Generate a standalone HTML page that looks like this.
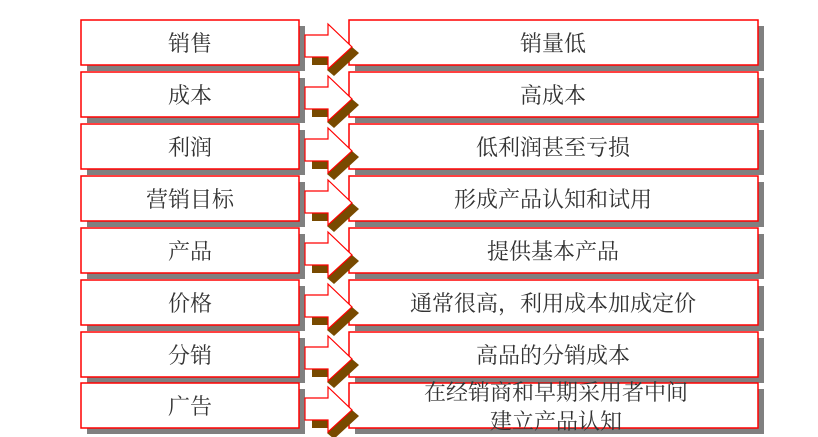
<!DOCTYPE html>
<html><head><meta charset="utf-8"><style>
html,body{margin:0;padding:0;background:#fff;width:818px;height:437px;overflow:hidden}
text{font-family:"Liberation Serif","Noto Serif CJK SC","Noto Sans CJK SC",serif;font-size:22px;fill:#333;text-anchor:middle}
</style></head><body>
<svg width="818" height="437" viewBox="0 0 818 437" xmlns="http://www.w3.org/2000/svg">
<defs>
<g id="row">
  <rect x="87" y="6" width="218" height="45" fill="#808080"/>
  <rect x="81" y="0" width="218" height="45" fill="#fff" stroke="#f00" stroke-width="1.5"/>
  <rect x="355" y="6" width="409" height="45" fill="#808080"/>
  <rect x="349" y="0" width="409" height="45" fill="#fff" stroke="#f00" stroke-width="1.5"/>
  <rect x="312" y="37" width="16" height="8" fill="#784a00"/>
  <polygon points="327,50 352,27 359,33 334,56" fill="#784a00"/>
  <polygon points="305,15 328,15 328,4 352,27 328,49 328,37 305,37" fill="#fff" stroke="#f00" stroke-width="1.2"/>
</g>
</defs>
<use href="#row" y="20"/>
<use href="#row" y="72"/>
<use href="#row" y="124"/>
<use href="#row" y="176"/>
<use href="#row" y="228"/>
<use href="#row" y="280"/>
<use href="#row" y="332"/>
<use href="#row" y="383"/>
<g>
<text x="190" y="51">销售</text><text x="553" y="51">销量低</text>
<text x="190" y="103">成本</text><text x="553" y="103">高成本</text>
<text x="190" y="155">利润</text><text x="553" y="155">低利润甚至亏损</text>
<text x="190" y="207">营销目标</text><text x="553" y="207">形成产品认知和试用</text>
<text x="190" y="259">产品</text><text x="553" y="259">提供基本产品</text>
<text x="190" y="311">价格</text><text x="553" y="311">通常很高，利用成本加成定价</text>
<text x="190" y="363">分销</text><text x="553" y="363">高品的分销成本</text>
<text x="190" y="414">广告</text>
<text x="556" y="400">在经销商和早期采用者中间</text>
<text x="556" y="429">建立产品认知</text>
</g>
</svg>
</body></html>
